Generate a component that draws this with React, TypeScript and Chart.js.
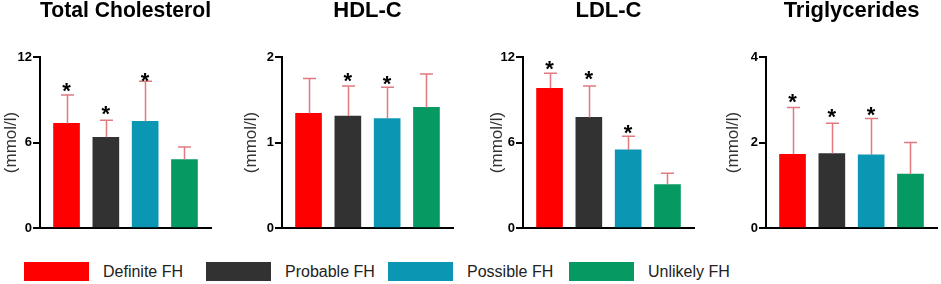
import React, { useEffect, useRef } from "react";
import { Chart, registerables } from "chart.js";

Chart.register(...registerables);

// ---- data ----
const groups = ["Definite FH", "Probable FH", "Possible FH", "Unlikely FH"];
const groupColors = ["#ff0000", "#323232", "#0b97b3", "#069a62"];

const panelTitles = ["Total Cholesterol", "HDL-C", "LDL-C", "Triglycerides"];
const yAxisMax = [12, 2, 12, 4];
const yAxisTitle = "(mmol/l)";

const tcMean = [7.34, 6.37, 7.48, 4.8];
const tcUpper = [9.33, 7.57, 10.3, 5.69];
const tcStar = [10.0, 8.35, 10.67, null];

const hdlMean = [1.34, 1.31, 1.28, 1.41];
const hdlUpper = [1.75, 1.66, 1.645, 1.8];
const hdlStar = [null, 1.777, 1.745, null];

const ldlMean = [9.8, 7.76, 5.48, 3.04];
const ldlUpper = [10.86, 9.96, 6.44, 3.84];
const ldlStar = [11.56, 10.81, 7.03, null];

const tgMean = [1.725, 1.74, 1.71, 1.26];
const tgUpper = [2.82, 2.45, 2.56, 2.0];
const tgStar = [3.07, 2.72, 2.76, null];

const panelMeans = [tcMean, hdlMean, ldlMean, tgMean];
const panelUppers = [tcUpper, hdlUpper, ldlUpper, tgUpper];
const panelStars = [tcStar, hdlStar, ldlStar, tgStar];

// ---- layout ----
const panelLeft = [0, 240, 486, 722];
const panelWidth = [215, 217, 212, 219];
const yAxisWidth = [40, 42, 37, 44];
const canvasHeight = 240;
const legendBoxLeft = [24, 206, 388, 569];

const FONT = "'Liberation Sans', Arial, Helvetica, sans-serif";
const errColor = "#e07a80";

function Panel({ idx }: { idx: number }) {
  const ref = useRef<HTMLCanvasElement | null>(null);
  useEffect(() => {
    if (!ref.current) return;
    const means = panelMeans[idx];
    const uppers = panelUppers[idx];
    const stars = panelStars[idx];
    const errPlugin = {
      id: "errStars" + idx,
      afterDatasetsDraw(chart: any) {
        const ctx = chart.ctx;
        const yScale = chart.scales.y;
        const meta = chart.getDatasetMeta(0);
        ctx.save();
        meta.data.forEach((bar: any, i: number) => {
          const x = Math.round(bar.x) + 0.5;
          const yTop = bar.y;
          const yCap = yScale.getPixelForValue(uppers[i]);
          ctx.strokeStyle = errColor;
          ctx.lineWidth = 1.5;
          ctx.beginPath();
          ctx.moveTo(x, yTop);
          ctx.lineTo(x, yCap);
          ctx.moveTo(x - 6.5, yCap);
          ctx.lineTo(x + 6.5, yCap);
          ctx.stroke();
          const s = stars[i];
          if (s !== null && s !== undefined) {
            const size = 22;
            ctx.fillStyle = "#000";
            ctx.font = `bold ${size}px ${FONT}`;
            ctx.textAlign = "center";
            ctx.textBaseline = "alphabetic";
            ctx.fillText("*", bar.x, yScale.getPixelForValue(s) + 0.56 * size);
          }
        });
        ctx.restore();
      },
    };
    const chart = new Chart(ref.current, {
      type: "bar",
      data: {
        datasets: [
          {
            data: means.map((v, i) => ({ x: i, y: v })),
            backgroundColor: groupColors,
            borderWidth: 0,
            grouped: false,
            maxBarThickness: 26,
            barPercentage: 1,
            categoryPercentage: 1,
          },
        ],
      },
      options: {
        animation: false,
        responsive: false,
        maintainAspectRatio: false,
        devicePixelRatio: 1,
        layout: { padding: { left: 0, right: 4, top: 0, bottom: 12 } },
        plugins: {
          legend: { display: false },
          tooltip: { enabled: false },
          title: {
            display: true,
            text: panelTitles[idx],
            fullSize: false,
            color: "#000",
            font: { family: FONT, size: 22, weight: "bold", lineHeight: 1 },
            padding: { top: 0, bottom: 35 },
          },
        },
        scales: {
          x: {
            type: "linear",
            min: -0.675,
            max: 3.675,
            offset: false,
            ticks: { display: false, count: 2 },
            grid: { display: false, drawTicks: false, offset: false },
            border: { display: true, color: "#000", width: 2 },
          },
          y: {
            min: 0,
            max: yAxisMax[idx],
            afterFit: (s: any) => {
              s.width = yAxisWidth[idx];
            },
            ticks: {
              stepSize: yAxisMax[idx] / 2,
              color: "#000",
              padding: 1,
              font: { family: FONT, size: 13, weight: "bold" },
            },
            grid: {
              drawOnChartArea: false,
              drawTicks: true,
              tickLength: 7,
              color: "#000",
              lineWidth: 2,
            },
            border: { display: true, color: "#000", width: 2 },
            title: {
              display: true,
              text: yAxisTitle,
              color: "#333",
              font: { family: FONT, size: 17 },
              padding: { top: 1, bottom: 0 },
            },
          },
        },
      },
      plugins: [errPlugin],
    } as any);
    return () => chart.destroy();
  }, [idx]);
  return (
    <canvas
      ref={ref}
      width={panelWidth[idx]}
      height={canvasHeight}
      style={{
        position: "absolute",
        left: panelLeft[idx],
        top: 0,
        width: panelWidth[idx],
        height: canvasHeight,
      }}
    />
  );
}

export default function App() {
  return (
    <div
      style={{
        position: "absolute",
        left: 0,
        top: 0,
        width: 941,
        height: 284,
        background: "#fff",
        overflow: "hidden",
        fontFamily: FONT,
      }}
    >
      {panelTitles.map((_, i) => (
        <Panel key={i} idx={i} />
      ))}
      {groups.map((g, i) => (
        <React.Fragment key={g}>
          <div
            style={{
              position: "absolute",
              left: legendBoxLeft[i],
              top: 262,
              width: 65,
              height: 19,
              background: groupColors[i],
            }}
          />
          <div
            style={{
              position: "absolute",
              left: legendBoxLeft[i] + 79,
              top: 262,
              height: 19,
              lineHeight: "19px",
              fontSize: 16,
              color: "#222",
              whiteSpace: "pre",
            }}
          >
            {g}
          </div>
        </React.Fragment>
      ))}
    </div>
  );
}
